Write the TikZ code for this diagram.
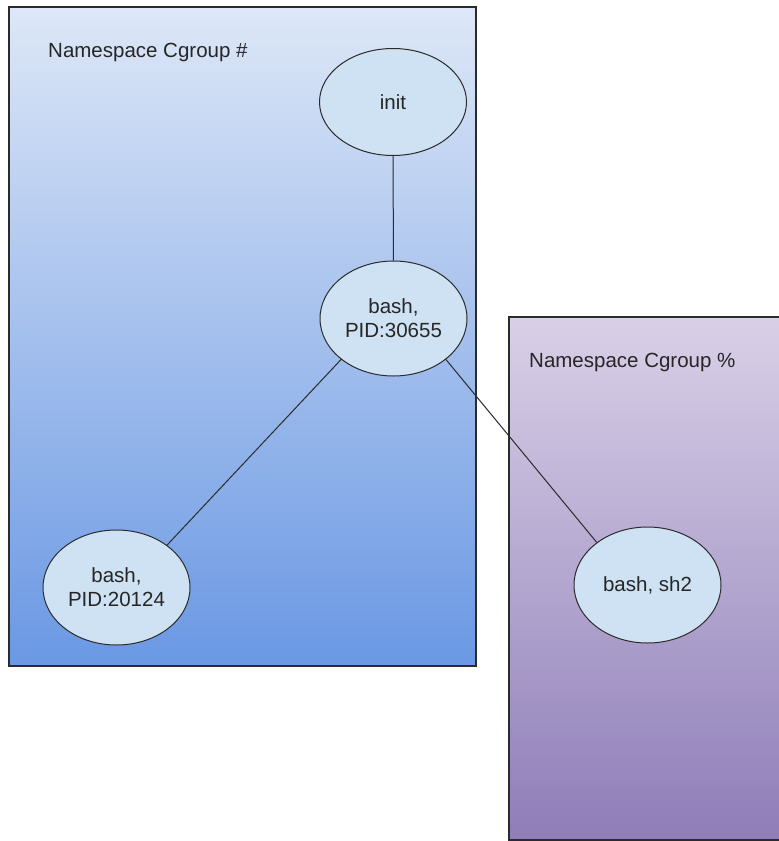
\documentclass[tikz,border=0pt]{standalone}
\usepackage{fontspec}
\setmainfont{Liberation Sans}
\usetikzlibrary{shapes.geometric}
\definecolor{blueTop}{HTML}{DDE7F7}
\definecolor{blueBot}{HTML}{6A98E3}
\definecolor{purpTop}{HTML}{D9D0E7}
\definecolor{purpBot}{HTML}{8E7DB8}
\definecolor{procFill}{HTML}{CFE2F3}
\definecolor{edgeCol}{HTML}{2B2B2B}
\tikzset{
  proc/.style={ellipse, draw=edgeCol, line width=1pt, fill=procFill,
    minimum width=147pt, minimum height=112pt, inner sep=0pt,
    align=center, font=\fontsize{20.5}{24}\selectfont, text=black!85},
  nsbox/.style={draw=edgeCol, line width=1.3pt},
  nslabel/.style={anchor=base west, font=\fontsize{20.5}{24}\selectfont, text=black!85, inner sep=0pt},
  link/.style={draw=edgeCol, line width=1pt}
}
\begin{document}
\begin{tikzpicture}[x=1pt,y=-1pt]
\clip (0,0) rectangle (779,841);
\fill[white] (0,0) rectangle (779,841);
% namespace containers
\shade[top color=blueTop, bottom color=blueBot] (9,7) rectangle (476,666);
\draw[nsbox] (9,7) rectangle (476,666);
\shade[top color=purpTop, bottom color=purpBot] (509,317) rectangle (790,840);
\draw[nsbox] (790,317) -- (509,317) -- (509,840) -- (790,840);
\node[nslabel] (nsA) at (48,57) {Namespace Cgroup \#};
\node[nslabel] (nsB) at (529,367) {Namespace Cgroup \%};
% processes
\node[proc, minimum height=107pt] (init) at (393,102) {init};
\node[proc, minimum height=115pt] (bashA) at (393.5,318.5) {bash,\\PID:30655};
\node[proc, minimum height=115pt] (bashB) at (116.5,587.5) {bash,\\PID:20124};
\node[proc, minimum height=116pt] (sh2) at (647.5,585) {bash, sh2};
% parent/child links
\draw[link] (init) -- (bashA);
\draw[link] (bashA.218) -- (bashB.40);
\draw[link] (bashA.322) -- (sh2.140);
\end{tikzpicture}
\end{document}
